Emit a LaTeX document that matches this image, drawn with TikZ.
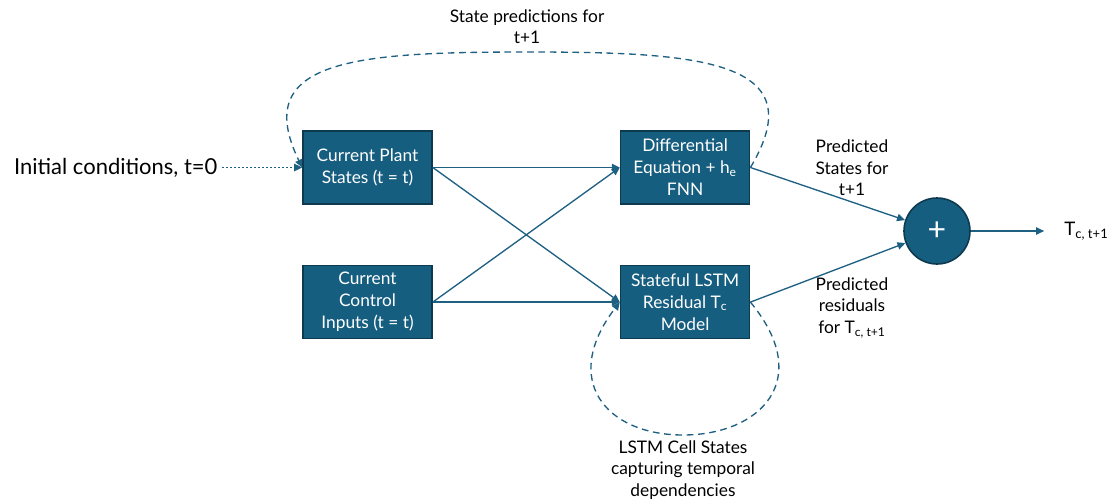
\documentclass[tikz,border=0pt]{standalone}
\usepackage{fontspec}
\setmainfont{Lato}
\usepackage{tikz}
\usetikzlibrary{positioning,arrows.meta}
\definecolor{boxblue}{RGB}{22,94,128}
\definecolor{boxedge}{RGB}{14,58,80}
\definecolor{linkblue}{RGB}{30,96,130}

\begin{document}
\begin{tikzpicture}[
    x=0.75pt, y=-0.75pt,
    block/.style={rectangle, draw=boxedge, line width=1.2pt, fill=boxblue, text=white,
        minimum width=96.75pt, minimum height=54.75pt, inner sep=2pt, align=center,
        font=\fontsize{13}{16.5}\selectfont},
    flow/.style={-{Triangle[length=6pt,width=5.5pt]}, linkblue, line width=1pt},
    feedback/.style={flow, dash pattern=on 5pt off 3.5pt},
    note/.style={align=center, font=\fontsize{13}{16}\selectfont}
]
    \useasboundingbox (0,0) rectangle (1114,500);

    % Inputs
    \node[block] (plant) at (367.5,167.5) {Current Plant\\States (t = t)};
    \node[block, below=45pt of plant] (ctrl) {Current\\Control\\Inputs (t = t)};
    \node[left=60pt of plant, font=\fontsize{16.5}{20}\selectfont] (init) {Initial conditions, t=0};

    % Models
    \node[block, right=140.25pt of plant] (diff) {Differential\\Equation + h\textsubscript{e}\\FNN};
    \node[block, right=140.25pt of ctrl] (lstm) {Stateful LSTM\\Residual T\textsubscript{c}\\Model};

    % Sum and output
    \node[circle, draw=boxedge, line width=1.2pt, fill=boxblue, text=white, minimum size=49.5pt,
        inner sep=0pt, font=\fontsize{24}{24}\selectfont] (plus) at (937,231) {+};
    \node[right=70pt of plus, inner sep=0pt, font=\fontsize{14}{16}\selectfont] (tout) {T\textsubscript{c, t+1}};

    % Forward connections
    \draw[flow, dotted, line width=1.1pt] (init) -- (plant);
    \foreach \s/\t in {plant/diff, plant/lstm, ctrl/diff, ctrl/lstm} {
        \draw[flow] (\s.east) -- (\t.west);
    }
    \draw[flow] (diff.east) -- (plus);
    \draw[flow] (lstm.east) -- (plus);
    \draw[flow, shorten >=15pt] (plus) -- (tout);

    % Feedback loops
    \draw[feedback] (diff.east) .. controls (815,60) and (700,52) .. (527,52)
        .. controls (354,52) and (250,60) .. (plant.west);
    \draw[feedback] (lstm.east) .. controls (815,380) and (760,435) .. (683,435)
        .. controls (606,435) and (560,380) .. (lstm.west);

    % Labels
    \node[note] (toplbl) at (527,27) {State predictions for\\t+1};
    \node[note] (stlbl) at (852,168) {Predicted\\States for\\t+1};
    \node[note] (reslbl) at (852,308) {Predicted\\residuals\\for T\textsubscript{c, t+1}};
    \node[note] (celllbl) at (683,470) {LSTM Cell States\\capturing temporal\\dependencies};
\end{tikzpicture}
\end{document}
